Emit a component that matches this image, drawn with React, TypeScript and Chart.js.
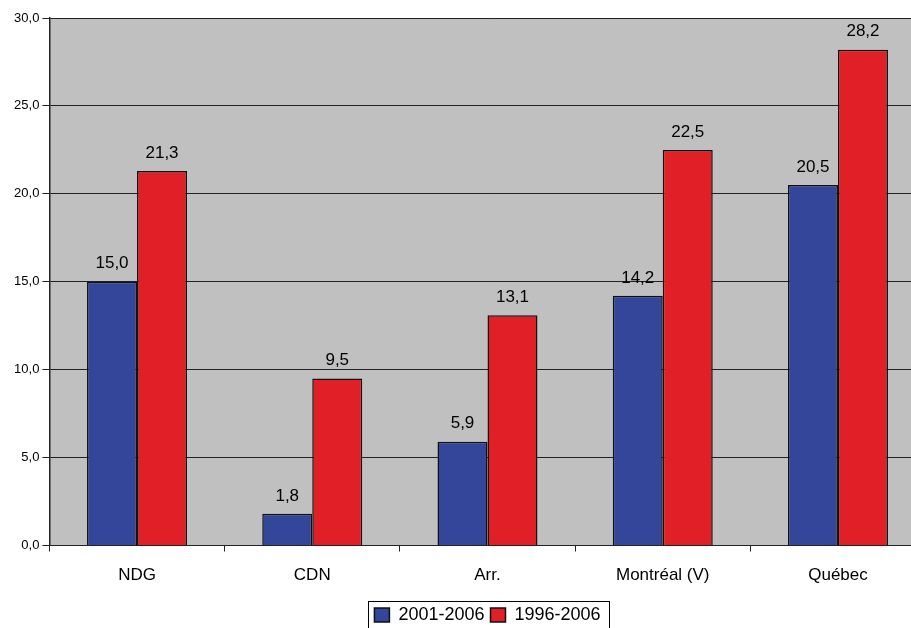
import React, { useEffect, useRef } from "react";
import { Chart, registerables } from "chart.js";

Chart.register(...registerables);

const categories = ["NDG", "CDN", "Arr.", "Montréal (V)", "Québec"];
const series2001_2006 = [15.0, 1.8, 5.9, 14.2, 20.5];
const series1996_2006 = [21.3, 9.5, 13.1, 22.5, 28.2];
const seriesLabels = ["2001-2006", "1996-2006"];
const yTicks = [0, 5, 10, 15, 20, 25, 30];

const FONT = "'Liberation Sans', Arial, sans-serif";
const fmt = (v: number) => v.toFixed(1).replace(".", ",");

const plotBg = {
  id: "plotBg",
  beforeDraw(chart: any) {
    const { ctx, chartArea } = chart;
    ctx.save();
    ctx.fillStyle = "#c0c0c0";
    ctx.fillRect(chartArea.left, chartArea.top, chartArea.right - chartArea.left, chartArea.bottom - chartArea.top);
    ctx.restore();
  },
};

const legendPlace = {
  id: "legendPlace",
  afterLayout(chart: any) {
    const lg = chart.legend;
    if (!lg) return;
    lg.left = chart.chartArea.left;
    lg.right = chart.chartArea.right;
    lg.width = lg.right - lg.left;
  },
  afterDraw(chart: any) {
    const lg = chart.legend;
    if (!lg || !lg.legendHitBoxes || !lg.legendHitBoxes.length) return;
    const hb = lg.legendHitBoxes;
    const first = hb[0];
    const last = hb[hb.length - 1];
    const { ctx } = chart;
    ctx.save();
    ctx.strokeStyle = "#000";
    ctx.lineWidth = 1;
    const l = Math.round(first.left - 6) + 0.5;
    const r = Math.round(last.left + last.width + 8) + 0.5;
    const t = Math.round(first.top - 5) + 0.5;
    const b = t + 40;
    ctx.strokeRect(l, t, r - l, b - t);
    ctx.restore();
  },
};

const valueLabels = {
  id: "valueLabels",
  afterDatasetsDraw(chart: any) {
    const { ctx } = chart;
    ctx.save();
    ctx.fillStyle = "#000";
    ctx.font = `17px ${FONT}`;
    ctx.textAlign = "center";
    ctx.textBaseline = "middle";
    chart.data.datasets.forEach((ds: any, di: number) => {
      const meta = chart.getDatasetMeta(di);
      meta.data.forEach((bar: any, i: number) => {
        ctx.fillText(fmt(ds.data[i]), bar.x, bar.y - 18);
      });
    });
    ctx.restore();
  },
};

export default function App() {
  const ref = useRef<HTMLCanvasElement | null>(null);
  useEffect(() => {
    if (!ref.current) return;
    const chart = new Chart(ref.current, {
      type: "bar",
      data: {
        labels: categories,
        datasets: [
          {
            label: seriesLabels[0],
            data: series2001_2006,
            backgroundColor: "#34469a",
            borderColor: "#111",
            borderWidth: 1.5,
            categoryPercentage: 0.5706,
            barPercentage: 1,
          },
          {
            label: seriesLabels[1],
            data: series1996_2006,
            backgroundColor: "#e01f26",
            borderColor: "#111",
            borderWidth: 1.5,
            categoryPercentage: 0.5706,
            barPercentage: 1,
          },
        ],
      },
      options: {
        responsive: false,
        animation: false,
        devicePixelRatio: 1,
        layout: { padding: { top: 18, right: 34.4, bottom: 0, left: 0 } },
        plugins: {
          legend: {
            position: "bottom",
            labels: {
              boxWidth: 15,
              boxHeight: 14,
              padding: 6,
              color: "#000",
              font: { family: FONT, size: 18 },
            },
          },
          tooltip: { enabled: false },
        },
        scales: {
          x: {
            offset: true,
            grid: {
              offset: true,
              drawOnChartArea: false,
              drawTicks: true,
              tickLength: 6,
              color: "#222",
            },
            border: { display: true, color: "#222", width: 1 },
            ticks: {
              color: "#000",
              padding: 14,
              font: { family: FONT, size: 17 },
              maxRotation: 0,
            },
            afterFit(scale: any) {
              scale.height = 54.5;
            },
          },
          y: {
            min: 0,
            max: 30,
            afterBuildTicks(scale: any) {
              scale.ticks = yTicks.map((v) => ({ value: v }));
            },
            grid: {
              color: "#222",
              tickLength: 7,
              drawTicks: true,
            },
            border: { display: true, color: "#222", width: 1.5 },
            ticks: {
              color: "#000",
              padding: 3,
              font: { family: FONT, size: 13 },
              callback: (v: any) => fmt(Number(v)),
            },
            afterFit(scale: any) {
              scale.width = 49.4;
            },
          },
        },
      },
      plugins: [plotBg, legendPlace, valueLabels],
    });
    return () => chart.destroy();
  }, []);

  return (
    <div style={{ position: "fixed", left: 0, top: 0, width: 911, height: 628, overflow: "hidden", background: "#fff" }}>
      <canvas ref={ref} width={960} height={634} style={{ width: 960, height: 634, display: "block" }} />
    </div>
  );
}
